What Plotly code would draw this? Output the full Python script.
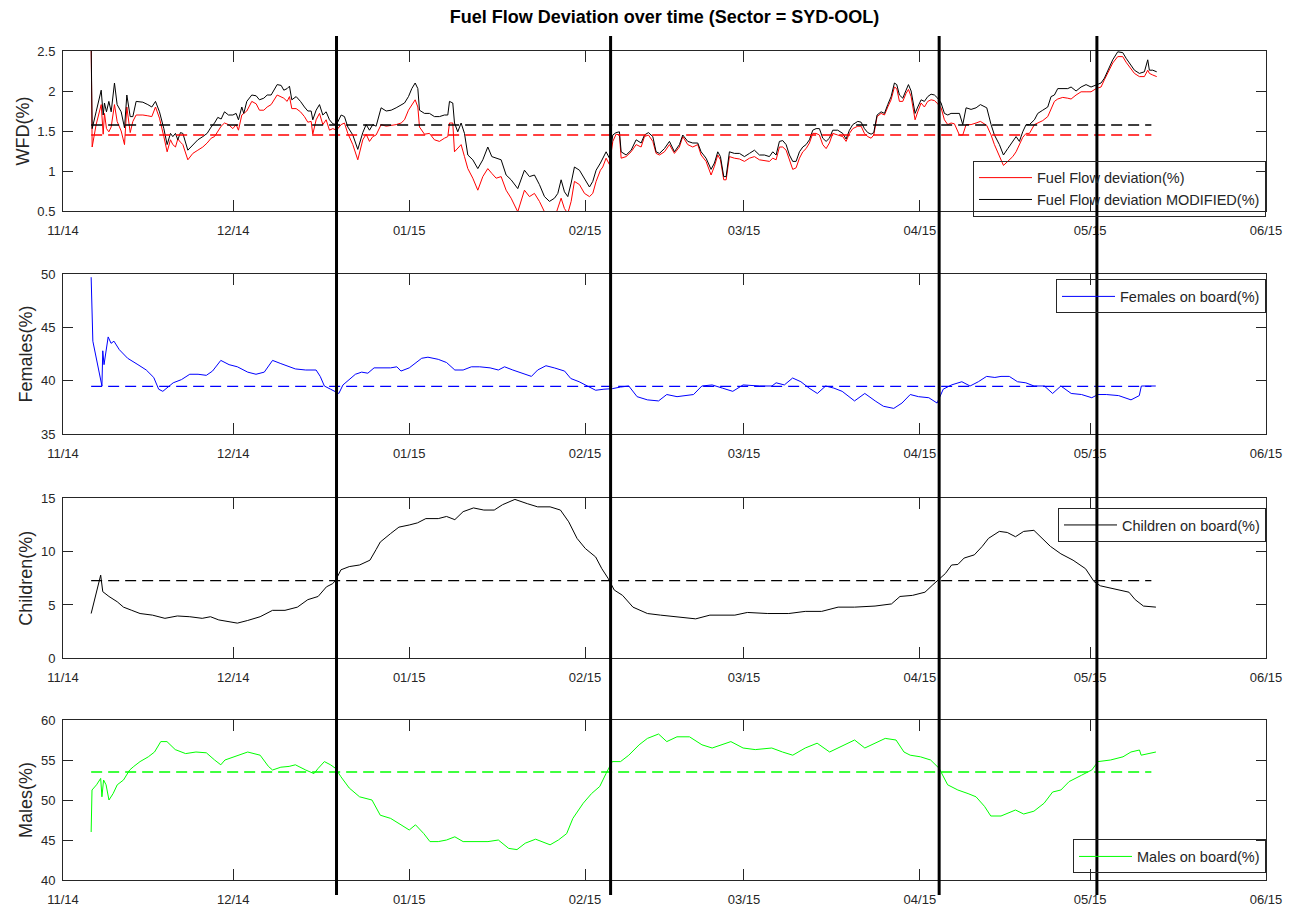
import pandas as pd
import plotly.graph_objects as go

# ---------------- data (x = days since 2014-11-01) ----------------
BASE_DATE = "2014-11-01"

wfd_days = [
    4.96, 5.14, 5.84, 6.73, 7.08, 7.31, 7.66, 8.08, 8.49, 9.07, 9.54, 10.25, 10.84, 11.25, 11.84,
    12.31, 12.89, 14.07, 14.95, 15.65, 16.30, 17.00, 17.77, 18.35, 18.94, 19.35, 19.82, 20.23, 20.70,
    21.12, 22.00, 22.88, 23.76, 24.64, 25.40, 26.11, 26.70, 27.28, 27.87, 28.46, 29.16, 29.93, 30.51,
    30.92, 31.51, 31.86, 32.39, 33.27, 34.04, 34.62, 35.39, 35.98, 36.68, 37.74, 38.44, 38.91, 39.50,
    39.91, 40.32, 41.09, 41.85, 42.55, 43.14, 43.73, 44.02, 44.61, 45.20, 45.79, 46.37, 46.96, 47.55,
    48.19, 49.02, 49.60, 50.19, 51.07, 51.95,
    52.83, 53.42, 54.01, 54.60, 55.18, 56.06, 56.95, 57.83, 58.71, 59.59, 60.18, 60.88, 61.47, 62.06,
    62.53, 62.82, 63.70, 64.58, 65.46, 66.34, 67.22, 67.81, 68.11, 68.69, 68.99, 69.57, 70.16, 70.75,
    71.34, 72.22, 73.10, 73.98, 74.86, 75.57, 76.33, 77.21, 78.09, 78.97, 80.14, 81.32, 82.20, 83.08,
    83.96, 84.85, 85.73, 86.61, 87.20, 87.78, 88.37, 88.96, 89.55, 90.13, 91.01, 91.90, 92.78, 93.36,
    93.95, 94.71, 95.12, 95.71, 96.30, 96.89, 97.47, 98.06, 98.36, 99.24, 100.12, 101.00, 101.88,
    102.47, 103.17, 103.94, 104.52, 105.11, 105.99, 106.87,
    107.75, 108.63, 109.22, 110.10, 110.98, 111.86, 112.45, 113.33, 114.21, 114.80, 115.39, 115.86,
    116.44, 116.86, 117.44, 118.32, 119.21, 120.09, 120.97, 121.85, 122.73, 123.61, 124.49, 125.08,
    125.67, 126.25, 126.84, 127.43, 128.02, 128.60, 129.19, 129.78, 130.37, 130.95, 131.54, 132.13,
    132.71, 133.30, 133.89, 134.48, 135.06, 135.65, 136.53, 137.41, 138.00, 138.59, 139.18, 140.06,
    140.65, 141.23, 141.82, 142.41, 142.88, 143.46, 144.17, 144.76, 145.34, 145.93, 146.52, 146.93,
    147.40, 147.99, 148.57, 148.99, 149.46, 149.92, 150.16, 150.63, 151.22, 151.80, 152.39, 152.98,
    153.57, 154.15, 154.74, 155.33, 155.92, 156.50, 157.09, 157.97, 158.56, 159.15, 160.03, 160.91,
    161.67,
    162.79, 163.55, 164.14, 165.02, 165.73, 166.49, 167.37, 167.96, 168.54, 169.13, 169.72, 170.31,
    171.19, 171.78, 172.66, 173.54, 174.12, 174.71, 175.30, 176.18, 177.06, 177.65, 178.53, 179.41,
    180.29, 181.17, 182.05, 182.93, 183.52, 184.11, 184.99, 185.87, 186.75, 187.34, 187.93, 188.81,
    189.69, 190.57, 191.16, 191.45, 192.04, 192.74,
]

wfd_fuel_flow = [
    2.6, 1.30, 1.58, 1.83, 1.46, 1.72, 1.53, 1.49, 1.55, 1.83, 1.62, 1.50, 1.33, 1.80, 1.48,
    1.62, 1.70, 1.70, 1.69, 1.68, 1.80, 1.66, 1.43, 1.24, 1.39, 1.33, 1.30, 1.40, 1.36,
    1.33, 1.14, 1.22, 1.26, 1.30, 1.35, 1.41, 1.43, 1.49, 1.56, 1.60, 1.58, 1.53, 1.58,
    1.51, 1.70, 1.72, 1.75, 1.87, 1.84, 1.76, 1.76, 1.80, 1.83, 1.95, 1.93, 1.91, 1.87,
    1.93, 1.78, 1.78, 1.74, 1.68, 1.61, 1.62, 1.46, 1.64, 1.72, 1.58, 1.64, 1.51, 1.53,
    1.51, 1.58, 1.60, 1.47, 1.33, 1.14,
    1.39, 1.46, 1.37, 1.43, 1.45, 1.58, 1.56, 1.57, 1.58, 1.60, 1.64, 1.76, 1.83, 1.89,
    1.80, 1.55, 1.46, 1.47, 1.39, 1.37, 1.41, 1.43, 1.60, 1.60, 1.24, 1.28, 1.33, 1.18,
    1.03, 0.91, 0.76, 0.93, 1.03, 0.97, 0.91, 0.93, 0.76, 0.66, 0.49, 0.76, 0.68, 0.72,
    0.62, 0.49, 0.41, 0.41, 0.55, 0.66, 0.53, 0.47, 0.62, 0.87, 0.83, 0.72, 0.68, 0.72,
    0.87, 1.01, 1.05, 1.16, 1.08, 1.37, 1.46, 1.45, 1.16, 1.18, 1.24, 1.33, 1.30,
    1.43, 1.45, 1.37, 1.22, 1.20, 1.24, 1.33,
    1.22, 1.30, 1.43, 1.33, 1.30, 1.33, 1.20, 1.12, 0.95, 1.06, 1.20, 1.14,
    0.89, 0.89, 1.18, 1.16, 1.15, 1.12, 1.16, 1.18, 1.14, 1.13, 1.12, 1.16,
    1.14, 1.30, 1.30, 1.26, 1.14, 1.02, 1.04, 1.16, 1.24, 1.28, 1.35, 1.47,
    1.47, 1.45, 1.33, 1.28, 1.35, 1.47, 1.45, 1.43, 1.37, 1.47, 1.53, 1.56,
    1.56, 1.47, 1.43, 1.41, 1.45, 1.68, 1.72, 1.70, 1.80, 1.89, 2.05, 2.03,
    1.87, 1.87, 1.97, 2.02, 1.93, 1.76, 1.64, 1.74, 1.85, 1.80, 1.87, 1.89,
    1.88, 1.84, 1.79, 1.64, 1.58, 1.60, 1.59, 1.45, 1.45, 1.58, 1.58, 1.60,
    1.62,
    1.57, 1.45, 1.33, 1.18, 1.07, 1.12, 1.18, 1.24, 1.32, 1.42, 1.47, 1.47,
    1.58, 1.60, 1.63, 1.68, 1.78, 1.87, 1.90, 1.92, 1.91, 1.90, 1.95, 1.99,
    1.99, 1.99, 2.03, 2.05, 2.14, 2.22, 2.35, 2.43, 2.43, 2.36, 2.30, 2.22,
    2.18, 2.18, 2.26, 2.22, 2.20, 2.18,
]

wfd_modified = [
    2.6, 1.53, 1.74, 2.01, 1.70, 1.85, 1.74, 1.87, 1.74, 2.10, 1.83, 1.74, 1.54, 1.95, 1.68,
    1.68, 1.87, 1.86, 1.83, 1.80, 1.87, 1.74, 1.53, 1.33, 1.47, 1.43, 1.47, 1.39, 1.48,
    1.47, 1.26, 1.33, 1.39, 1.43, 1.47, 1.55, 1.60, 1.67, 1.65, 1.74, 1.70, 1.70, 1.72,
    1.64, 1.80, 1.72, 1.87, 1.95, 1.94, 1.89, 1.91, 1.95, 1.95, 2.08, 2.07, 2.01, 2.03,
    2.06, 1.89, 1.93, 1.87, 1.80, 1.75, 1.75, 1.64, 1.76, 1.83, 1.70, 1.74, 1.64, 1.59,
    1.58, 1.70, 1.68, 1.55, 1.45, 1.27,
    1.48, 1.58, 1.51, 1.58, 1.56, 1.79, 1.75, 1.76, 1.79, 1.83, 1.85, 1.93, 2.03, 2.10,
    2.03, 1.76, 1.72, 1.72, 1.68, 1.68, 1.70, 1.70, 1.87, 1.85, 1.60, 1.49, 1.60, 1.47,
    1.20, 1.14, 1.03, 1.14, 1.30, 1.18, 1.16, 1.14, 0.95, 0.89, 0.78, 1.01, 0.93, 0.95,
    0.83, 0.68, 0.62, 0.66, 0.72, 0.89, 0.74, 0.68, 0.85, 1.05, 1.01, 0.91, 0.80, 0.87,
    1.01, 1.10, 1.16, 1.24, 1.16, 1.45, 1.48, 1.49, 1.24, 1.20, 1.26, 1.39, 1.35,
    1.45, 1.48, 1.43, 1.24, 1.22, 1.28, 1.37,
    1.24, 1.33, 1.45, 1.37, 1.35, 1.35, 1.24, 1.16, 1.02, 1.10, 1.24, 1.18,
    0.93, 0.93, 1.24, 1.22, 1.22, 1.18, 1.22, 1.26, 1.20, 1.20, 1.18, 1.24,
    1.20, 1.37, 1.38, 1.33, 1.20, 1.12, 1.12, 1.24, 1.30, 1.33, 1.39, 1.51,
    1.53, 1.53, 1.41, 1.37, 1.41, 1.51, 1.51, 1.47, 1.40, 1.51, 1.58, 1.62,
    1.61, 1.53, 1.48, 1.46, 1.48, 1.70, 1.74, 1.72, 1.83, 1.93, 2.10, 2.08,
    1.95, 1.91, 2.01, 2.08, 2.00, 1.83, 1.72, 1.80, 1.89, 1.87, 1.93, 1.96,
    1.95, 1.91, 1.85, 1.72, 1.70, 1.72, 1.72, 1.72, 1.58, 1.79, 1.77, 1.79,
    1.83,
    1.79, 1.58, 1.45, 1.33, 1.20, 1.28, 1.37, 1.43, 1.37, 1.49, 1.58, 1.58,
    1.64, 1.72, 1.76, 1.80, 1.93, 1.95, 2.03, 2.03, 2.03, 2.05, 2.00, 2.05,
    2.08, 2.05, 2.08, 2.10, 2.16, 2.26, 2.39, 2.49, 2.48, 2.41, 2.35, 2.26,
    2.22, 2.24, 2.39, 2.26, 2.26, 2.24,
]

females_days = [
    4.96, 5.11, 5.26, 6.86, 7.01, 7.23, 7.59, 7.96, 8.47, 8.98, 9.93, 11.39, 13.21, 14.67, 15.99,
    16.86, 17.59, 19.42, 20.88, 22.34, 23.80, 25.26, 26.35, 27.81, 29.27, 30.73, 32.55, 34.01, 35.47,
    36.93, 38.39, 39.85, 40.95, 42.77, 44.60, 45.33, 46.06, 47.15, 48.03, 48.61, 49.34, 50.44, 51.53,
    52.63, 53.72, 54.82, 56.28, 57.74, 58.83, 59.56, 61.02, 61.75, 63.21, 64.31, 66.13, 67.59, 69.05,
    70.51, 71.97, 73.43, 75.26, 76.72, 77.81, 79.27, 80.73, 82.55, 83.65, 85.11, 86.57, 88.39, 89.49,
    90.95, 92.41, 93.87, 95.33, 96.79, 98.25, 99.71, 101.17, 102.99,
    104.95, 106.40, 108.21, 111.12, 112.58, 114.40, 116.21, 118.03, 119.85, 122.76, 124.94, 125.67,
    127.12, 128.58, 130.03, 131.49, 132.94, 134.40, 135.85, 137.31, 139.49, 141.30, 143.13, 144.58,
    146.40, 147.85, 149.31, 150.76, 152.58, 154.04, 155.12, 156.58, 158.40, 159.85, 161.31, 162.76,
    164.22, 165.30, 166.76, 168.21, 169.67, 171.12, 172.94, 174.40, 175.85, 177.67, 179.49, 181.30,
    182.40, 183.85, 186.03, 188.21, 189.67, 190.03, 191.49, 192.58,
]
females_pct = [
    49.7, 46.8, 43.7, 39.5, 42.8, 41.5, 42.6, 44.1, 43.5, 43.7, 42.9, 42.1, 41.5, 41.0, 40.3,
    39.2, 39.0, 39.8, 40.1, 40.6, 40.6, 40.5, 40.9, 41.9, 41.5, 41.3, 40.8, 40.6, 40.8,
    41.9, 41.6, 41.3, 41.1, 41.0, 41.0, 40.4, 39.5, 39.2, 39.0, 38.8, 39.6, 40.1, 40.6,
    40.8, 40.7, 41.2, 41.2, 41.2, 41.3, 40.9, 41.2, 41.5, 42.1, 42.2, 42.0, 41.7, 41.0,
    41.0, 41.3, 41.3, 41.2, 41.0, 41.3, 41.0, 40.7, 40.4, 41.0, 41.4, 41.2, 40.9, 40.2,
    39.9, 39.5, 39.1, 39.2, 39.25, 39.4, 39.5, 38.5, 38.2,
    38.1, 38.7, 38.5, 38.7, 39.5, 39.6, 39.3, 39.0, 39.6, 39.5, 39.5, 39.8,
    39.6, 40.25, 39.9, 39.3, 38.8, 39.5, 39.3, 39.0, 38.1, 38.8, 38.1, 37.6,
    37.4, 37.9, 38.7, 38.5, 38.4, 37.9, 39.2, 39.6, 39.9, 39.5, 39.9, 40.4,
    40.3, 40.4, 40.4, 39.9, 39.8, 39.5, 39.5, 38.8, 39.5, 38.8, 38.7, 38.4,
    38.7, 38.7, 38.6, 38.2, 38.6, 39.5, 39.5, 39.5,
]

children_days = [
    4.96, 5.91, 6.64, 7.01, 8.10, 9.56, 10.66, 12.12, 13.58, 15.77, 17.96, 20.15, 22.34, 24.53, 25.99,
    27.45, 29.27, 30.73, 32.55, 34.74, 36.93, 39.12, 41.31, 43.14, 44.96, 46.42, 47.52, 48.03, 48.98,
    50.44, 52.26, 54.09, 55.18, 55.91, 57.74, 59.20, 61.02, 62.48, 63.94, 66.13, 67.59, 69.05, 70.51,
    72.34, 74.16, 75.99, 77.45, 79.64, 81.82, 83.65, 85.84, 87.66, 89.12, 90.58, 92.04, 93.87, 94.96,
    96.06, 97.15, 98.61, 100.44, 102.99,
    105.3, 108.2, 111.5, 114.0, 118.4, 120.6, 124.2, 127.9, 130.8, 133.7, 136.6, 139.5, 143.1, 146.0,
    147.5, 149.7, 151.9, 153.3, 154.4, 155.5, 156.6, 157.7, 158.8, 160.6, 162.0, 163.1, 165.0, 166.4,
    167.85, 169.3, 171.1, 172.6, 174.0, 175.85, 178.0, 180.2, 181.7, 182.8, 184.6, 187.85, 188.95,
    190.4, 192.6,
]
children_pct = [
    4.2, 6.4, 7.8, 6.25, 5.8, 5.3, 4.8, 4.5, 4.2, 4.05, 3.75, 3.97, 3.9, 3.75, 3.9,
    3.6, 3.45, 3.3, 3.55, 3.9, 4.5, 4.5, 4.8, 5.5, 5.8, 6.7, 7.0, 7.3, 8.3,
    8.6, 8.75, 9.2, 10.2, 10.9, 11.7, 12.3, 12.5, 12.7, 13.1, 13.1, 13.3, 13.0, 13.75,
    14.1, 13.9, 13.9, 14.4, 14.9, 14.5, 14.2, 14.2, 13.9, 12.8, 11.25, 10.3, 9.5, 8.4,
    7.5, 6.4, 5.9, 4.8, 4.2,
    4.05, 3.9, 3.7, 4.05, 4.05, 4.3, 4.2, 4.2, 4.4, 4.4, 4.8, 4.8, 4.9, 5.1,
    5.8, 5.9, 6.2, 6.9, 7.4, 7.95, 8.75, 8.8, 9.4, 9.7, 10.5, 11.25, 11.9, 11.8,
    11.4, 11.9, 12.0, 11.25, 10.5, 9.8, 9.2, 8.4, 7.2, 6.8, 6.6, 6.2, 5.5,
    4.9, 4.8,
]

males_days = [
    4.96, 5.11, 5.91, 6.64, 6.86, 7.15, 7.59, 8.10, 8.83, 9.56, 10.66, 11.75, 12.48, 13.58, 15.04,
    16.13, 17.23, 18.32, 19.78, 21.61, 23.43, 25.26, 26.72, 27.81, 28.54, 30.73, 32.55, 34.74, 36.20,
    36.93, 38.39, 39.85, 40.95, 42.77, 44.23, 44.96, 46.06, 47.15, 48.03, 48.98, 50.44, 52.26, 54.45,
    55.91, 57.74, 59.56, 61.02, 62.12, 63.58, 64.67, 66.13, 67.59, 69.05, 70.51, 72.70, 74.89, 76.72,
    78.54, 80.00, 81.46, 83.28, 84.38, 85.84, 87.30, 88.76, 89.85, 91.68, 93.14, 94.60, 95.69, 96.79,
    98.25, 99.71, 101.53, 102.99,
    104.95, 106.4, 108.2, 110.4, 112.6, 114.4, 117.7, 119.85, 122.0, 124.9, 126.8, 128.6, 130.8,
    132.9, 135.1, 137.3, 139.5, 141.3, 143.1, 144.9, 146.8, 148.2, 149.3, 151.1, 152.9, 154.4,
    155.9, 157.7, 159.5, 160.9, 162.4, 163.5, 165.3, 167.85, 169.3, 171.1, 172.9, 174.4, 175.85,
    177.3, 179.5, 181.3, 182.4, 184.6, 186.8, 188.2, 189.7, 190.0, 192.6,
]
males_pct = [
    46.0, 51.25, 51.9, 52.7, 50.4, 52.5, 51.9, 50.0, 50.8, 51.9, 52.5, 53.75, 54.2, 54.8, 55.4,
    56.0, 57.3, 57.3, 56.3, 55.8, 56.0, 55.9, 55.0, 54.4, 55.0, 55.6, 56.0, 55.6, 54.2,
    53.75, 54.1, 54.2, 54.4, 53.75, 53.3, 53.95, 54.8, 54.4, 53.95, 52.9, 51.5, 50.4, 50.0,
    48.1, 47.7, 46.9, 46.25, 46.9, 45.8, 44.8, 44.8, 45.0, 45.4, 44.8, 44.8, 44.8, 45.0,
    43.95, 43.8, 44.6, 45.1, 44.8, 44.4, 45.0, 45.8, 47.7, 49.6, 50.8, 51.7, 53.3, 54.8,
    54.8, 55.6, 56.9, 57.7,
    58.25, 57.3, 57.9, 57.9, 56.9, 56.5, 57.3, 56.5, 56.3, 56.5, 56.0, 55.6, 56.5,
    57.1, 56.0, 56.7, 57.5, 56.5, 57.1, 57.7, 57.5, 56.0, 55.6, 55.4, 55.0, 53.95,
    51.9, 51.25, 50.8, 50.4, 49.2, 48.0, 48.0, 48.75, 48.25, 48.6, 49.6, 51.0, 51.25,
    52.3, 53.1, 53.75, 54.8, 55.0, 55.4, 56.0, 56.25, 55.6, 56.0,
]

# mean (dashed) levels and their span
mean_span_days = [4.96, 191.8]
wfd_mean_fuel_flow = 1.45
wfd_mean_modified = 1.575
females_mean = 39.47
children_mean = 7.28
males_mean = 53.5

# thick vertical marker lines (days since 2014-11-01)
marker_days = [48.2, 96.5, 154.4, 182.2]

month_ticks = ["2014-11-01", "2014-12-01", "2015-01-01", "2015-02-01",
               "2015-03-01", "2015-04-01", "2015-05-01", "2015-06-01"]
month_labels = ["11/14", "12/14", "01/15", "02/15", "03/15", "04/15", "05/15", "06/15"]

# ---------------- figure ----------------
base = pd.Timestamp(BASE_DATE)


def to_dates(days):
    return [base + pd.Timedelta(days=d) for d in days]


FONT = "Liberation Sans, Arial, sans-serif"
AX = "#262626"
DASH = "11px,6px"

fig = go.Figure()

panels = [
    ("", [(wfd_days, wfd_fuel_flow, "#FF0000", "Fuel Flow deviation(%)"),
          (wfd_days, wfd_modified, "#000000", "Fuel Flow deviation MODIFIED(%)")],
     [(wfd_mean_fuel_flow, "#FF0000"), (wfd_mean_modified, "#000000")], "legend"),
    ("2", [(females_days, females_pct, "#0000FF", "Females on board(%)")],
     [(females_mean, "#0000FF")], "legend2"),
    ("3", [(children_days, children_pct, "#000000", "Children on board(%)")],
     [(children_mean, "#000000")], "legend3"),
    ("4", [(males_days, males_pct, "#00FF00", "Males on board(%)")],
     [(males_mean, "#00FF00")], "legend4"),
]

for suf, series, means, leg in panels:
    for days, vals, color, name in series:
        fig.add_trace(go.Scatter(
            x=to_dates(days), y=vals, mode="lines", name=name,
            line=dict(color=color, width=1), legend=leg,
            xaxis="x" + suf, yaxis="y" + suf,
        ))
    for level, color in means:
        fig.add_trace(go.Scatter(
            x=to_dates(mean_span_days), y=[level, level], mode="lines",
            line=dict(color=color, width=1.3, dash=DASH), showlegend=False,
            xaxis="x" + suf, yaxis="y" + suf, hoverinfo="skip",
        ))

domains = [[0.807, 1.0], [0.538, 0.731], [0.2674, 0.4604], [0.0, 0.193]]
yranges = [[0.5, 2.5], [35, 50], [0, 15], [40, 60]]
ytitles = ["WFD(%)", "Females(%)", "Children(%)", "Males(%)"]

layout = dict(
    width=1289, height=906,
    margin=dict(l=63, r=23, t=51, b=26, autoexpand=False),
    paper_bgcolor="white", plot_bgcolor="white",
    font=dict(family=FONT, size=13, color=AX),
    title=dict(text="Fuel Flow Deviation over time (Sector = SYD-OOL)",
               font=dict(family=FONT, size=18, color="#000000", weight="bold"),
               x=0.5, xref="paper", xanchor="center",
               y=1 - 17 / 906, yref="container", yanchor="middle"),
    hovermode=False,
)

for i, suf in enumerate(["", "2", "3", "4"]):
    layout["xaxis" + suf] = dict(
        anchor="y" + suf, domain=[0, 1],
        range=[month_ticks[0], month_ticks[-1]], type="date",
        tickmode="array", tickvals=month_ticks, ticktext=month_labels,
        ticks="inside", ticklen=11, tickcolor=AX, tickwidth=1,
        showline=True, linecolor=AX, linewidth=1, mirror="ticks",
        showgrid=False, zeroline=False, automargin=False,
        tickfont=dict(family=FONT, size=13, color=AX),
        ticklabelstandoff=7,
    )
    layout["yaxis" + suf] = dict(
        anchor="x" + suf, domain=domains[i], range=yranges[i],
        dtick=0.5 if i == 0 else 5, tick0=0,
        ticks="inside", ticklen=10, tickcolor=AX, tickwidth=1,
        showline=True, linecolor=AX, linewidth=1, mirror="ticks",
        showgrid=False, zeroline=False, automargin=False,
        tickfont=dict(family=FONT, size=13, color=AX),
        ticklabelstandoff=4,
        title=dict(text=ytitles[i], font=dict(family=FONT, size=18, color=AX), standoff=3),
    )

leg_common = dict(bgcolor="rgba(255,255,255,0)", bordercolor=AX, borderwidth=1,
                  font=dict(family=FONT, size=14.5, color=AX), xref="paper", yref="paper",
                  x=1.0, xanchor="right", yanchor="middle", tracegroupgap=0, itemwidth=53)
# legend centres (paper fraction)
layout["legend"] = dict(leg_common, y=0.8339)
layout["legend2"] = dict(leg_common, y=0.7039)
layout["legend3"] = dict(leg_common, y=0.4282)
layout["legend4"] = dict(leg_common, y=0.02835)

shapes = []
for d in marker_days:
    xd = base + pd.Timedelta(days=d)
    shapes.append(dict(type="line", xref="x", yref="paper", x0=xd, x1=xd,
                       y0=-0.018, y1=1.018, line=dict(color="#000000", width=3)))
layout["shapes"] = shapes

fig.update_layout(**layout)

fig.write_html("out.html", config={"displayModeBar": False},
               post_script="document.body.style.margin='0';")
